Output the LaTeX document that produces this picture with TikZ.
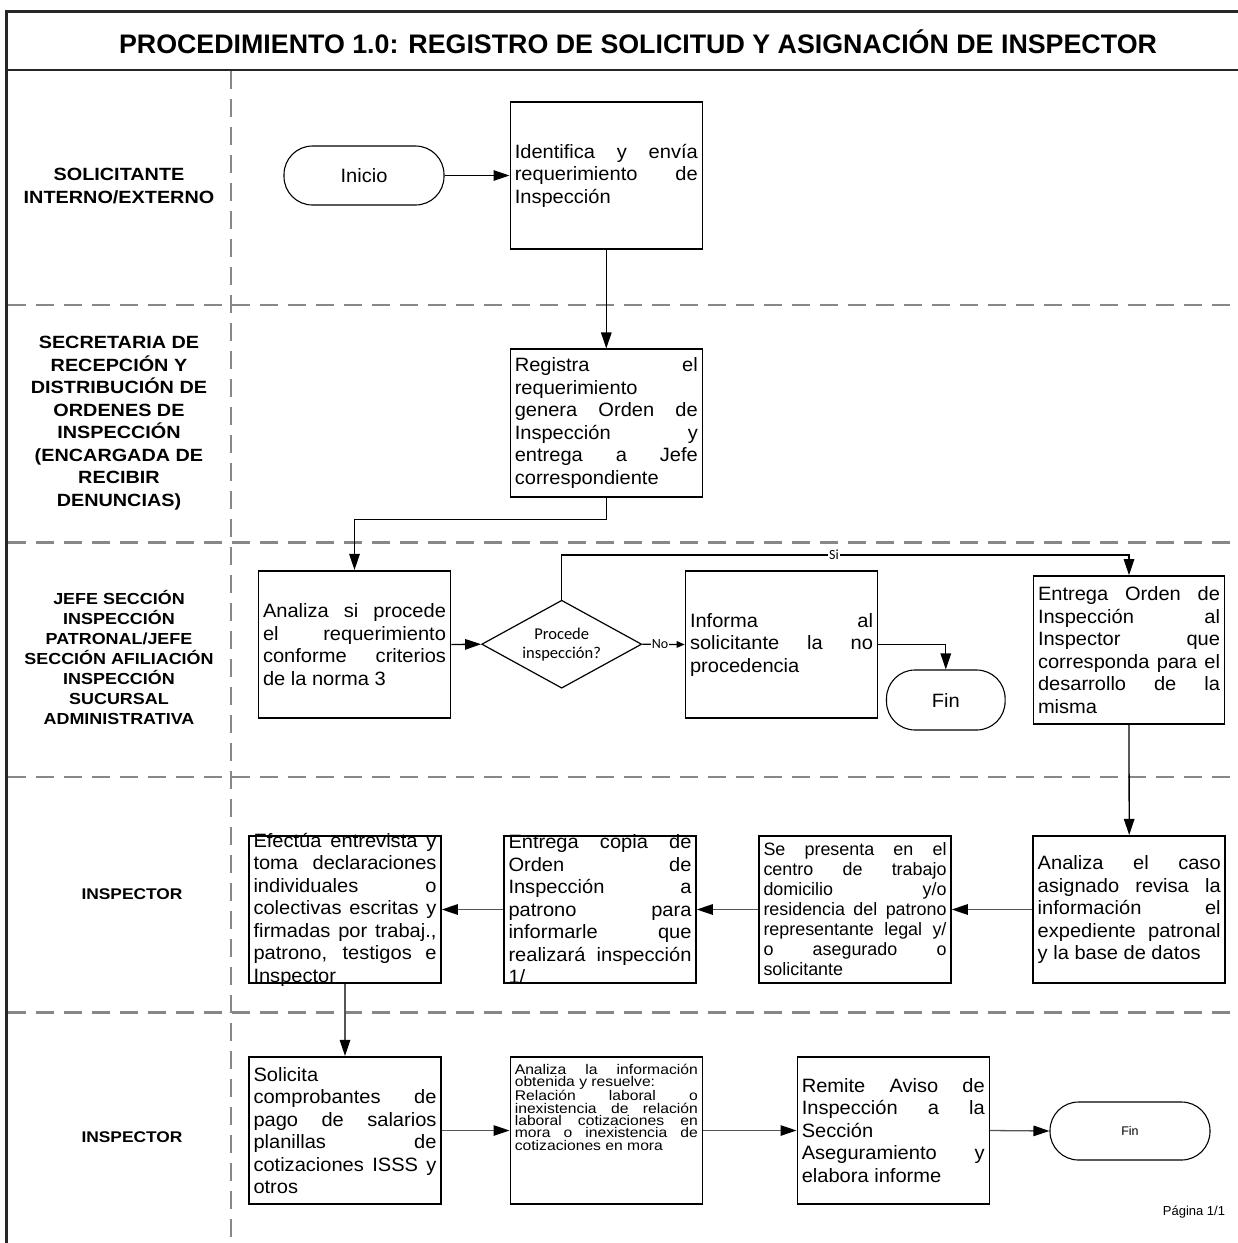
\documentclass[tikz,border=0pt]{standalone}
\usepackage{fontspec}
\setmainfont{Liberation Sans}
\newfontfamily\calfont{Carlito}
\newfontfamily\lanefont[FakeStretch=1.12]{Liberation Sans}
\newfontfamily\boxfont[FakeStretch=1.04]{Liberation Sans}
\newfontfamily\smallboxfont[FakeStretch=1.12]{Liberation Sans}
\usetikzlibrary{arrows.meta,shapes.geometric}
\definecolor{lanegray}{RGB}{135,135,135}
\definecolor{conngray}{RGB}{85,85,85}
\hyphenpenalty=10000
\exhyphenpenalty=10000
\tolerance=10000
\hbadness=10000
\begin{document}
\begin{tikzpicture}[x=1pt,y=-1pt,
  procbox/.style={draw=black,line width=1.6pt,minimum width=192pt,minimum height=147.5pt,inner sep=0pt},
  btext/.style={text width=183pt,align=justify,inner sep=0pt,font=\boxfont\fontsize{19.3}{22.5}\selectfont},
  stext/.style={text width=183pt,align=justify,inner sep=0pt,font=\fontsize{17.9}{20}\selectfont},
  xtext/.style={text width=183pt,align=justify,inner sep=0pt,font=\smallboxfont\fontsize{14}{12.3}\selectfont},
  term/.style={draw=black,line width=1.1pt,rounded corners=28.5pt,minimum width=160pt,minimum height=59pt,inner sep=0pt},
  decision/.style={draw=black,line width=1.2pt,diamond,minimum width=160pt,minimum height=88pt,inner sep=0pt},
  lanelbl/.style={align=center,inner sep=0pt,font=\lanefont\bfseries\fontsize{17.7}{22.5}\selectfont},
  lanesep/.style={draw=lanegray,line width=2.6pt,dash pattern=on 18pt off 10pt},
  frameline/.style={draw=black!85,line width=2.6pt},
  conn/.style={draw=black,line width=1.3pt,-{Triangle[length=16pt,width=10.5pt]}},
  conng/.style={draw=conngray,line width=1.3pt,-{Triangle[length=16pt,width=10.5pt,color=black]}},
  lbl/.style={fill=white,inner sep=1pt,font=\calfont\fontsize{14}{16}\selectfont}
]
\useasboundingbox (0,0) rectangle (1238,1243);
\fill[white] (0,0) rectangle (1238,1243);

% frame and title
\draw[frameline] (6.5,1243) -- (6.5,11.7) -- (1238,11.7);
\draw[frameline,line width=2.2pt] (6.5,70) -- (1238,70);
\node[font=\bfseries\fontsize{26.8}{30}\selectfont,inner sep=0pt] (title) at (638,42) {PROCEDIMIENTO 1.0: REGISTRO DE SOLICITUD Y ASIGNACIÓN DE INSPECTOR};

% lanes
\draw[lanesep] (231,71) -- (231,1243);
\draw[lanesep] (8,305) -- (1238,305);
\draw[lanesep] (8,542.5) -- (1238,542.5);
\draw[lanesep] (8,777) -- (1238,777);
\draw[lanesep] (8,1012.5) -- (1238,1012.5);

\node[lanelbl] (lane1) at (119,186) {SOLICITANTE\\INTERNO/EXTERNO};
\node[lanelbl] (lane2) at (119,423) {SECRETARIA DE\\RECEPCIÓN Y\\DISTRIBUCIÓN DE\\ORDENES DE\\INSPECCIÓN\\(ENCARGADA DE\\RECIBIR\\DENUNCIAS)};
\node[lanelbl,font=\lanefont\bfseries\fontsize{16}{20}\selectfont] (lane3) at (119,657) {JEFE SECCIÓN\\INSPECCIÓN\\PATRONAL/JEFE\\SECCIÓN AFILIACIÓN\\INSPECCIÓN\\SUCURSAL\\ADMINISTRATIVA};
\node[lanelbl,font=\lanefont\bfseries\fontsize{15.5}{20}\selectfont] (lane4) at (132,894) {INSPECTOR};
\node[lanelbl,font=\lanefont\bfseries\fontsize{15.5}{20}\selectfont] (lane5) at (132,1137) {INSPECTOR};

% lane 1
\node[term] (inicio) at (364,175.5) {};
\node[font=\boxfont\fontsize{19.3}{22}\selectfont,inner sep=0pt] (inicio-t) at (inicio.center) {Inicio};
\node[procbox] (ident) at (606.3,175.5) {};
\node[btext] (ident-t) at (ident.center) {Identifica y envía\linebreak requerimiento de\linebreak Inspección};

% lane 2
\node[procbox] (reg) at (606.3,423) {};
\node[btext] (reg-t) at (reg.center) {Registra el\linebreak requerimiento\linebreak genera Orden de\linebreak Inspección y\linebreak entrega a Jefe\linebreak correspondiente};

% lane 3
\node[procbox] (anal1) at (354.5,644.5) {};
\node[btext] (anal1-t) at (anal1.center) {Analiza si procede\linebreak el requerimiento\linebreak conforme criterios\linebreak de la norma 3};
\node[decision] (dia) at (561.7,644.2) {};
\node[align=center,inner sep=0pt,font=\calfont\fontsize{16.5}{19}\selectfont] (dia-t) at (dia.center) {Procede\\inspección?};
\node[procbox] (inform) at (781.5,644.5) {};
\node[btext] (inform-t) at (inform.center) {Informa al\linebreak solicitante la no\linebreak procedencia};
\node[term,minimum width=118.6pt,minimum height=60pt] (fin1) at (945.8,700) {};
\node[font=\boxfont\fontsize{19.3}{22}\selectfont,inner sep=0pt] (fin1-t) at (fin1.center) {Fin};
\node[procbox,minimum width=191pt,minimum height=148pt] (entrega) at (1129,650) {};
\node[btext,text width=182pt] (entrega-t) at (entrega.center) {Entrega Orden de\linebreak Inspección al\linebreak Inspector que\linebreak corresponda para el\linebreak desarrollo de la\linebreak misma};

% lane 4
\node[procbox] (caso) at (1129.2,909.5) {};
\node[btext] (caso-t) at (caso.center) {Analiza el caso\linebreak asignado revisa la\linebreak información el\linebreak expediente patronal\linebreak y la base de datos};
\node[procbox] (presenta) at (855,909.5) {};
\node[stext] (presenta-t) at (presenta.center) {Se presenta en el\linebreak centro de trabajo\linebreak domicilio y/o\linebreak residencia del patrono\linebreak representante legal y/\linebreak o asegurado o\linebreak solicitante};
\node[procbox] (copia) at (600,909.5) {};
\node[btext] (copia-t) at (copia.center) {Entrega copia de\linebreak Orden de\linebreak Inspección a\linebreak patrono para\linebreak informarle que\linebreak realizará inspección\linebreak 1/};
\node[procbox] (efectua) at (345,909.5) {};
\node[btext] (efectua-t) at (efectua.center) {Efectúa entrevista y\linebreak toma declaraciones\linebreak individuales o\linebreak colectivas escritas y\linebreak firmadas por trabaj.,\linebreak patrono, testigos e\linebreak Inspector};

% lane 5
\node[procbox] (solicita) at (345,1130.5) {};
\node[btext] (solicita-t) at (solicita.center) {Solicita\linebreak comprobantes de\linebreak pago de salarios\linebreak planillas de\linebreak cotizaciones ISSS y\linebreak otros};
\node[procbox] (infoanal) at (606.3,1130.5) {};
\node[xtext,anchor=north] (infoanal-t) at ([yshift=-8pt]infoanal.north) {Analiza la información\linebreak obtenida y resuelve:\par Relación laboral o\linebreak inexistencia de relación\linebreak laboral cotizaciones en\linebreak mora o inexistencia de\linebreak cotizaciones en mora};
\node[procbox] (remite) at (893.3,1130.5) {};
\node[btext] (remite-t) at (remite.center) {Remite Aviso de\linebreak Inspección a la\linebreak Sección\linebreak Aseguramiento y\linebreak elabora informe};
\node[term,minimum height=58pt] (fin2) at (1130,1131) {};
\node[font=\fontsize{12.5}{14}\selectfont,inner sep=0pt] (fin2-t) at (fin2.center) {Fin};

\node[font=\fontsize{13}{15}\selectfont,inner sep=0pt] (pagina) at (1194,1212) {Página 1/1};

% connectors
\draw[conn] (inicio.east) -- (ident.west);
\draw[conn] (ident.south) -- (reg.north);
\draw[conn] (reg.south) -- ++(0,22) -| (anal1.north);
\draw[conn] (anal1.east) -- (dia.west);
\draw[conn,-{Triangle[length=8pt,width=6.5pt]}] (dia.east) -- node[lbl,pos=0.42] (nolbl) {No} (inform.west);
\coordinate (siA) at (561.7,555);
\coordinate (siB) at (1129,555);
\draw[conn] (dia.north) -- (siA) -- node[lbl,pos=0.48] (silbl) {Si} (siB) -- (entrega.north);
\draw[conn] (inform.east) -| (fin1.north);
\draw[conn] (entrega.south) -- (caso.north);
\draw[conng] (caso.west) -- (presenta.east);
\draw[conng] (presenta.west) -- (copia.east);
\draw[conng] (copia.west) -- (efectua.east);
\draw[conng] (efectua.south) -- (solicita.north);
\draw[conng] (solicita.east) -- (infoanal.west);
\draw[conng] (infoanal.east) -- (remite.west);
\draw[conng] (remite.east) -- (fin2.west);
\end{tikzpicture}
\end{document}
